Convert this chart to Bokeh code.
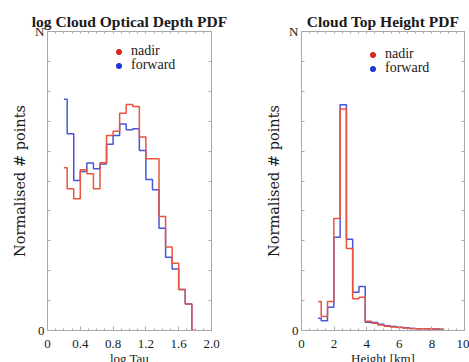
from bokeh.plotting import figure
from bokeh.models import (LinearAxis, FixedTicker, Range1d, Legend, LegendItem,
                          GlobalInlineStyleSheet)
from bokeh.layouts import row
from bokeh.embed import file_html
from bokeh.resources import INLINE

# ---------------- data ----------------
tau_bins = [0.20, 0.28, 0.36, 0.44, 0.52, 0.60, 0.68, 0.76, 0.84, 0.92, 1.00,
            1.08, 1.16, 1.24, 1.32, 1.40, 1.48, 1.56, 1.64, 1.72, 1.80]
tau_nadir = [0.544, 0.474, 0.441, 0.538, 0.524, 0.474, 0.561, 0.652, 0.666, 0.727, 0.756,
             0.749, 0.647, 0.574, 0.574, 0.381, 0.279, 0.225, 0.137, 0.089, 0.0]
tau_forward = [0.773, 0.658, 0.502, 0.532, 0.560, 0.541, 0.557, 0.623, 0.652, 0.691, 0.671,
               0.675, 0.602, 0.505, 0.471, 0.342, 0.245, 0.206, 0.137, 0.089, 0.0]

height_bins = [1.02, 1.40, 1.79, 2.18, 2.56, 2.95, 3.33, 3.72, 4.10, 4.49, 4.87,
               5.26, 5.64, 6.03, 6.41, 6.80, 7.18, 7.57, 7.95, 8.34, 8.72]
height_nadir = [0.097, 0.047, 0.097, 0.375, 0.741, 0.274, 0.106, 0.111, 0.031, 0.024, 0.018,
                0.014, 0.012, 0.010, 0.008, 0.007, 0.006, 0.006, 0.005, 0.005, 0.004]
height_forward = [0.041, 0.033, 0.078, 0.312, 0.755, 0.305, 0.128, 0.147, 0.028, 0.027, 0.021,
                  0.016, 0.013, 0.011, 0.009, 0.007, 0.006, 0.006, 0.005, 0.005, 0.004]

tau_ticks = [0, 0.4, 0.8, 1.2, 1.6, 2.0]
tau_tick_labels = ["0", "0.4", "0.8", "1.2", "1.6", "2.0"]
tau_minor = [0.1, 0.2, 0.3, 0.5, 0.6, 0.7, 0.9, 1.0, 1.1, 1.3, 1.4, 1.5, 1.7, 1.8, 1.9]
height_ticks = [0, 2, 4, 6, 8, 10]
height_tick_labels = ["0", "2", "4", "6", "8", "10"]
height_minor = [0.5, 1, 1.5, 2.5, 3, 3.5, 4.5, 5, 5.5, 6.5, 7, 7.5, 8.5, 9, 9.5]
y_ticks = [0, 1]
y_tick_labels = ["0", "N"]
y_minor = [0.1, 0.2, 0.3, 0.4, 0.5, 0.6, 0.7, 0.8, 0.9]

series_names = ["nadir", "forward"]
titles = ["log Cloud Optical Depth PDF", "Cloud Top Height PDF"]
x_labels = ["log Tau", "Height [km]"]
y_label = "Normalised # points"

# ---------------- style ----------------
FONT = "Liberation Serif"
YFONT = "DejaVu Serif"
GRAY = "#a9a9a9"
RED = "#e8543f"
BLUE = "#4656dc"
RED_DOT = "#d62a1f"
BLUE_DOT = "#1f35dd"
TXT = "#1a1a1a"
YLABEL_SPAN = (0, 0.876)   # y-title is centred a little below the frame centre


def style_axis(ax):
    ax.axis_line_color = GRAY
    ax.major_tick_line_color = GRAY
    ax.minor_tick_line_color = GRAY
    ax.major_tick_in = 4
    ax.major_tick_out = 0
    ax.minor_tick_in = 2
    ax.minor_tick_out = 0
    ax.major_label_text_font = FONT
    ax.major_label_text_color = TXT
    ax.major_label_text_font_size = "13px"


def make_panel(title, x_end, xticks, xlabels, xminor, centers, nadir, forward, xlabel,
               frame_w, bl, br, leg_red, leg_blue):
    p = figure(title=title, frame_width=frame_w, frame_height=299,
               x_range=Range1d(0, x_end), y_range=Range1d(0, 1),
               output_backend="svg", toolbar_location=None,
               min_border_left=bl, min_border_right=br,
               min_border_top=31, min_border_bottom=32)
    p.grid.visible = False
    p.outline_line_color = GRAY
    p.background_fill_color = "white"
    p.border_fill_color = "white"

    p.title.align = "center"
    p.title.text_font = FONT
    p.title.text_font_size = "15.5px"
    p.title.text_font_style = "bold"
    p.title.text_color = TXT
    p.title.standoff = 4

    xa = p.xaxis[0]
    xa.ticker = FixedTicker(ticks=xticks, minor_ticks=xminor)
    xa.major_label_overrides = dict(zip(xticks, xlabels))
    style_axis(xa)
    xa.major_label_standoff = 9
    xa.axis_label = xlabel
    xa.axis_label_text_font = FONT
    xa.axis_label_text_font_size = "13px"
    xa.axis_label_text_font_style = "normal"
    xa.axis_label_text_color = TXT
    xa.axis_label_standoff = 0

    ya = p.yaxis[0]
    ya.ticker = FixedTicker(ticks=y_ticks, minor_ticks=y_minor)
    ya.major_label_overrides = dict(zip(y_ticks, y_tick_labels))
    style_axis(ya)
    ya.minor_tick_in = 3
    ya.major_label_standoff = 3

    # separate label-only axis so the y-title can sit below the frame centre
    yl = LinearAxis(ticker=FixedTicker(ticks=[], minor_ticks=[]), bounds=YLABEL_SPAN)
    yl.axis_line_color = None
    yl.major_tick_line_color = None
    yl.minor_tick_line_color = None
    yl.major_label_standoff = 0
    yl.axis_label = y_label
    yl.axis_label_text_font = YFONT
    yl.axis_label_text_font_size = "14.5px"
    yl.axis_label_text_font_style = "normal"
    yl.axis_label_text_color = TXT
    yl.axis_label_standoff = 5
    p.add_layout(yl, "left")

    # mirrored tick marks on top and right (no labels)
    top = LinearAxis(ticker=FixedTicker(ticks=[], minor_ticks=xticks + xminor))
    style_axis(top)
    top.minor_tick_in = 2
    p.add_layout(top, "above")
    right = LinearAxis(ticker=FixedTicker(ticks=[], minor_ticks=y_ticks + y_minor))
    style_axis(right)
    right.minor_tick_in = 3
    p.add_layout(right, "right")

    p.step(centers, forward, mode="center", line_color=BLUE, line_width=1.5)
    p.step(centers, nadir, mode="center", line_color=RED, line_width=1.5)

    # legend-only dot renderers (hidden in the plot area)
    dot_r = p.scatter(centers[:1], nadir[:1], color=RED_DOT, visible=False)
    dot_b = p.scatter(centers[:1], forward[:1], color=BLUE_DOT, visible=False)
    for rend, name, loc in [(dot_r, series_names[0], leg_red), (dot_b, series_names[1], leg_blue)]:
        lg = Legend(items=[LegendItem(label=name, renderers=[rend])], location=loc,
                    glyph_width=13, glyph_height=13, label_height=14, label_standoff=6,
                    padding=0, margin=0, spacing=0, border_line_color=None,
                    background_fill_alpha=0, inactive_fill_alpha=0, label_text_font=FONT,
                    label_text_font_size="14px", label_text_color=TXT)
        p.add_layout(lg)
    return p


p1 = make_panel(titles[0], 2.0, tau_ticks, tau_tick_labels, tau_minor,
                tau_bins, tau_nadir, tau_forward, x_labels[0],
                164, 47, 35, (65, 271), (65, 257))
p2 = make_panel(titles[1], 10, height_ticks, height_tick_labels, height_minor,
                height_bins, height_nadir, height_forward, x_labels[1],
                163, 55, 5, (65, 268), (65, 254))

layout = row(p1, p2, stylesheets=[GlobalInlineStyleSheet(css="html, body { overflow: hidden; }")])
open("out.html", "w").write(file_html(layout, INLINE))
